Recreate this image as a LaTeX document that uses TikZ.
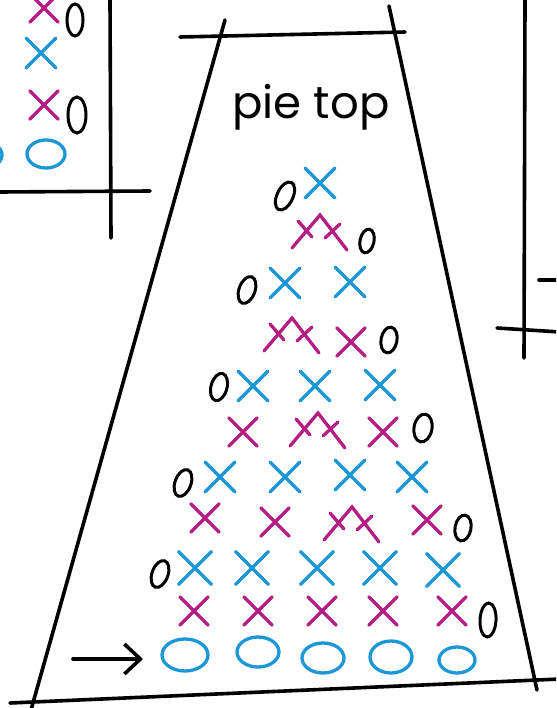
\documentclass[tikz,border=0pt]{standalone}
\usepackage{fontspec}
\usepackage{tikz}
\usetikzlibrary{arrows.meta}
\usepackage{xcolor}
\newfontfamily\handfont{Poppins}
\definecolor{stblue}{RGB}{27,150,215}
\definecolor{stmag}{RGB}{180,30,130}

\begin{document}
\begin{tikzpicture}[x=1pt, y=-1pt]

        % 1. Canvas (pixel grid, y running down)
        \useasboundingbox (0,0) rectangle (556,708);
        \clip (0,0) rectangle (556,708);

        \tikzset{
            ink/.style={line width=3.6pt, line cap=round, black},
            bluest/.style={line width=3.3pt, line cap=round, stblue},
            magst/.style={line width=3.3pt, line cap=round, stmag},
            stx/.pic={\draw (-15,-15) -- (15,15) (-15,15) -- (15,-15);},
            % two stitches worked together
            dec/.pic={
                \draw (-28,33) -- (0,0) -- (27,35);
                \draw (-22,6) -- (-8,22) (5,23) -- (20,9);
            }
        }

        % 2. Frame of the chart
        \coordinate (topL) at (180,37);
        \coordinate (topR) at (405,32);
        \coordinate (lfTop) at (225,20);
        \coordinate (lfBot) at (31,710);
        \coordinate (rtTop) at (389,6);
        \coordinate (rtBot) at (537,690);
        \coordinate (botL) at (10,703);
        \coordinate (botR) at (560,679);

        \draw[ink] (topL) -- (topR);
        \draw[ink] (lfTop) -- (lfBot);
        \draw[ink] (rtTop) -- (rtBot);
        \draw[ink] (botL) -- (botR);

        % Neighbouring charts, cut at the edges
        \draw[ink] (110,0) -- (111,238);
        \draw[ink] (0,192) -- (150,191);
        \draw[ink] (525,0) -- (524,358);
        \draw[ink] (497,328) -- (560,332);
        \draw[ink] (539,280) -- (560,280);

        \node[anchor=base, font=\handfont\fontsize{45}{45}\selectfont] (title) at (311,119) {pie top};

        % 3. Foundation chain and start arrow
        \coordinate (arrTail) at (73,659);
        \coordinate (arrHead) at (143,659);
        \draw[ink, -{Straight Barb[length=16pt, width=30pt]}] (arrTail) -- (arrHead);

        \foreach \x/\y/\rx/\ry in {185/655/23/16, 258/652/21/15, 323/658/21/15, 391/657/21/16, 457/660/18/13, 46/154/19/14, -16/155/18/13}
            \draw[bluest] (\x,\y) ellipse [x radius=\rx, y radius=\ry];

        % 4. Turning chains
        \foreach \x/\y/\a/\rx/\ry in {75/20/0/8/16, 77/115/0/9/18, 285/196/-25/8/15, 367/241/-12/7/12,
                                      247/290/-20/8/14, 389/340/-10/8/13, 219/387/-15/8/14, 423/428/-10/9/14,
                                      183/483/-20/8/14, 463/528/-10/8/13, 160/574/-20/8/14, 488/620/-3/8/17}
            \draw[ink, line width=3pt, rotate around={\a:(\x,\y)}] (\x,\y) ellipse [x radius=\rx, y radius=\ry];

        % 5. Blue rows
        \foreach \x/\y in {320/183, 285/283, 350/282, 253/386, 315/386, 380/385,
                           220/477, 285/477, 350/475, 412/477, 41/53}
            \pic[bluest] at (\x,\y) {stx};
        \foreach \x/\y in {195/568, 252/568, 317/568, 380/568, 443/570}
            \pic[bluest, scale=1.1] at (\x,\y) {stx};

        % 6. Pink rows
        \foreach \x/\y in {351/342, 243/432, 383/432, 205/518, 275/522, 427/520,
                           194/611, 258/611, 322/611, 383/611, 452/611, 44/105, 44/8}
            \pic[magst, scale=0.95] at (\x,\y) {stx};
        \foreach \x/\y in {320/215, 292/318, 318/413, 352/507}
            \pic[magst] at (\x,\y) {dec};

    \end{tikzpicture}
\end{document}
